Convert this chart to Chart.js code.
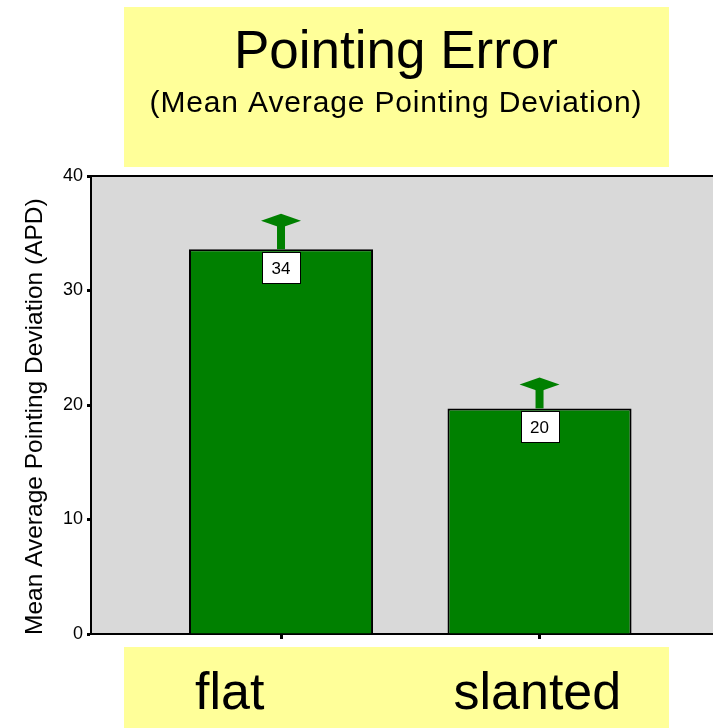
<!DOCTYPE html>
<html>
<head>
<meta charset="utf-8">
<script src="https://cdn.jsdelivr.net/npm/chart.js@4/dist/chart.umd.min.js"></script>
<style>
  html, body { margin: 0; padding: 0; background: #fff; }
  #wrap { width: 713px; height: 728px; }
</style>
</head>
<body>
<div id="wrap"><canvas id="c" width="713" height="728"></canvas></div>
<script>
// Pointing error by surface type
const categories = ['flat', 'slanted'];
const meanAPD = [33.6, 19.7];        // mean average pointing deviation
const upperAPD = [36.1, 21.8];       // top of the error bar
const yTicks = [0, 10, 20, 30, 40];

const titleText = 'Pointing Error';
const subtitleText = '(Mean Average Pointing Deviation)';
const yTitle = 'Mean Average Pointing Deviation (APD)';

const FONT = "'Liberation Sans', Arial, Helvetica, sans-serif";
const YELLOW = '#FFFF99';
const GREEN = '#008000';
const PLOT_BG = '#D9D9D9';

const decorations = {
  id: 'decorations',
  beforeDraw(chart) {
    const { ctx, chartArea: a } = chart;
    ctx.save();
    ctx.fillStyle = '#fff';
    ctx.fillRect(0, 0, chart.width, chart.height);

    // header box with title
    ctx.fillStyle = YELLOW;
    ctx.fillRect(124, 7, 545, 160);
    ctx.fillStyle = '#000';
    ctx.textAlign = 'center';
    ctx.textBaseline = 'alphabetic';
    ctx.font = '53px ' + FONT;
    ctx.fillText(titleText, 396, 68);
    ctx.font = '30px ' + FONT;
    ctx.letterSpacing = '0.85px';
    ctx.fillText(subtitleText, 396, 112);
    ctx.letterSpacing = '0px';

    // plot background
    ctx.fillStyle = PLOT_BG;
    ctx.fillRect(a.left, a.top, a.right - a.left, a.bottom - a.top);

    // rotated y-axis title, starting at the baseline of the plot
    ctx.save();
    ctx.translate(42, a.bottom + 1);
    ctx.rotate(-Math.PI / 2);
    ctx.font = '24.5px ' + FONT;
    ctx.textAlign = 'left';
    ctx.textBaseline = 'alphabetic';
    ctx.fillStyle = '#000';
    ctx.fillText(yTitle, 0, 0);
    ctx.restore();
    ctx.restore();
  },
  afterDraw(chart) {
    const { ctx, chartArea: a } = chart;
    ctx.save();
    // top frame line
    ctx.strokeStyle = '#000';
    ctx.lineWidth = 2;
    ctx.beginPath();
    ctx.moveTo(a.left, a.top);
    ctx.lineTo(a.right, a.top);
    ctx.stroke();

    // category box below the axis
    ctx.fillStyle = YELLOW;
    ctx.fillRect(124, 647, 545, 81);
    ctx.fillStyle = '#000';
    ctx.font = '52px ' + FONT;
    ctx.textAlign = 'left';
    ctx.textBaseline = 'alphabetic';
    const bars = chart.getDatasetMeta(0).data;
    bars.forEach((bar, i) => {
      ctx.fillText(categories[i], bar.x - bar.width / 2 + 6, 709);
    });
    ctx.restore();
  },
  afterDatasetsDraw(chart) {
    const { ctx } = chart;
    const yScale = chart.scales.y;
    const bars = chart.getDatasetMeta(0).data;
    ctx.save();
    bars.forEach((bar, i) => {
      const cx = bar.x;
      const yTop = yScale.getPixelForValue(meanAPD[i]);
      const yUp = yScale.getPixelForValue(upperAPD[i]);
      // error bar: stem + arrow-like cap
      ctx.fillStyle = GREEN;
      ctx.fillRect(cx - 4, yUp, 8, yTop - yUp);
      ctx.beginPath();
      ctx.moveTo(cx - 20, yUp);
      ctx.lineTo(cx, yUp - 7);
      ctx.lineTo(cx + 20, yUp);
      ctx.lineTo(cx, yUp + 7);
      ctx.closePath();
      ctx.fill();

      // value label
      const bw = 38, bh = 31;
      const bx = Math.round(cx - bw / 2) + 0.5;
      const by = Math.round(yTop + 3) + 0.5;
      ctx.fillStyle = '#fff';
      ctx.fillRect(bx, by, bw, bh);
      ctx.strokeStyle = '#000';
      ctx.lineWidth = 1;
      ctx.strokeRect(bx, by, bw, bh);
      ctx.fillStyle = '#000';
      ctx.font = '17px ' + FONT;
      ctx.textAlign = 'center';
      ctx.textBaseline = 'middle';
      ctx.fillText(String(Math.round(meanAPD[i])), cx, by + bh / 2 + 1);
    });
    ctx.restore();
  }
};

new Chart(document.getElementById('c'), {
  type: 'bar',
  data: {
    datasets: [{
      label: 'APD',
      data: categories.map((c, i) => ({ x: i + 1, y: meanAPD[i] })),
      backgroundColor: GREEN,
      borderColor: '#000',
      borderWidth: 2,
      barPercentage: 0.712,
      categoryPercentage: 1
    }]
  },
  options: {
    responsive: false,
    animation: false,
    layout: { padding: { top: 176, right: 0, left: 0, bottom: 0 } },
    plugins: {
      legend: { display: false },
      tooltip: { enabled: false }
    },
    scales: {
      x: {
        type: 'linear',
        offset: false,
        min: 0.265,
        max: 2.671,
        afterBuildTicks(scale) {
          scale.ticks = categories.map((c, i) => ({ value: i + 1 }));
        },
        afterFit(scale) { scale.height = 94; },
        ticks: { callback: () => '' },
        grid: { offset: false, drawOnChartArea: false, drawTicks: true, tickLength: 5, tickWidth: 3, tickColor: '#000' },
        border: { color: '#000', width: 2 }
      },
      y: {
        min: 0,
        max: 40,
        afterBuildTicks(scale) {
          scale.ticks = yTicks.map(v => ({ value: v }));
        },
        afterFit(scale) { scale.width = 91; },
        ticks: { color: '#000', font: { family: FONT, size: 18 }, padding: 4 },
        grid: { drawOnChartArea: false, drawTicks: true, tickLength: 4, tickWidth: 3, tickColor: '#000' },
        border: { color: '#000', width: 2 }
      }
    }
  },
  plugins: [decorations]
});
</script>
</body>
</html>
